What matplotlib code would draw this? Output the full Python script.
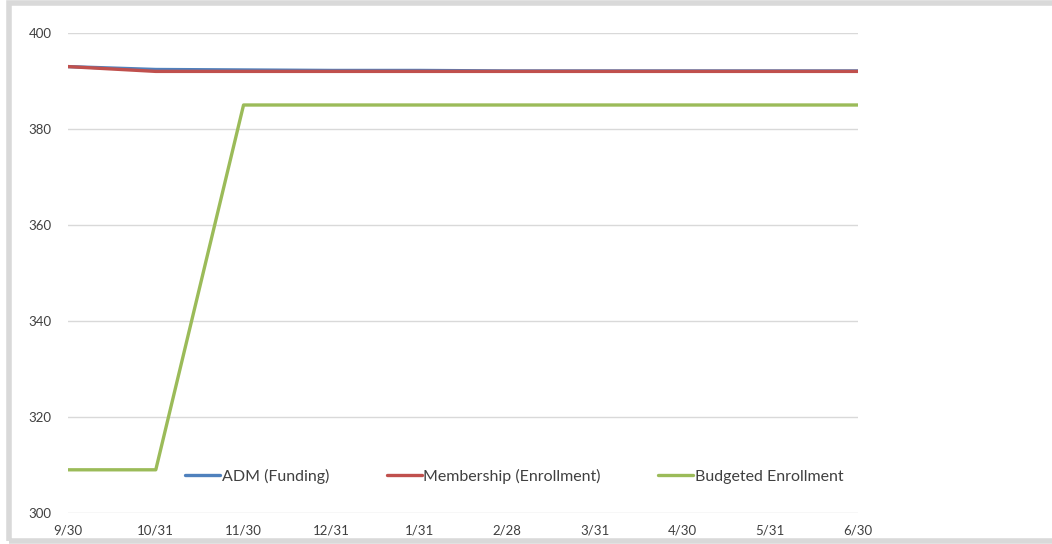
import matplotlib.pyplot as plt
from matplotlib.patches import Rectangle
import numpy as np

plt.rcParams['font.family'] = ['Lato', 'DejaVu Sans']

# meses (fin de mes) y series
months = ['9/30', '10/31', '11/30', '12/31', '1/31', '2/28', '3/31', '4/30', '5/31', '6/30']
adm = [393, 392.4, 392.3, 392.2, 392.2, 392.1, 392.1, 392.1, 392.1, 392.1]
membership = [393, 392, 392, 392, 392, 392, 392, 392, 392, 392]
budgeted = [309, 309, 385, 385, 385, 385, 385, 385, 385, 385]

fig = plt.figure(figsize=(10.52, 5.44), dpi=100)
ax = fig.add_axes([68 / 1052, 1 - 513 / 544, (858 - 68) / 1052, (513 - 33) / 544])

x = np.arange(len(months))
ax.plot(x, adm, color='#4F81BD', lw=2.4, label='ADM (Funding)', solid_capstyle='round')
ax.plot(x, membership, color='#C0504D', lw=2.4, label='Membership (Enrollment)', solid_capstyle='round')
ax.plot(x, budgeted, color='#9BBB59', lw=2.4, label='Budgeted Enrollment', solid_capstyle='round')

ax.set_xlim(0, len(months) - 1)
ax.set_ylim(300, 400)
ax.set_yticks([300, 320, 340, 360, 380, 400])
ax.set_xticks(x)
ax.set_xticklabels(months)
ax.grid(axis='y', color='#D9D9D9', lw=1)
ax.set_axisbelow(True)
for s in ax.spines.values():
    s.set_visible(False)
ax.tick_params(length=0, labelsize=9.5, colors='#404040')
ax.tick_params(axis='y', pad=12)
ax.tick_params(axis='x', pad=8)

leg = ax.legend(loc='center', bbox_to_anchor=(0.565, 0.076), ncol=3, frameon=False,
                fontsize=11.5, handlelength=2.2, handletextpad=0.1, columnspacing=3.6)
for t in leg.get_texts():
    t.set_color('#404040')

# borde del grafico
fig.patches.append(Rectangle((9 / 1052, 3 / 544), 1.1, 538 / 544, transform=fig.transFigure,
                             fill=False, edgecolor='#D9D9D9', lw=4))

fig.savefig('out.png', dpi=100)
